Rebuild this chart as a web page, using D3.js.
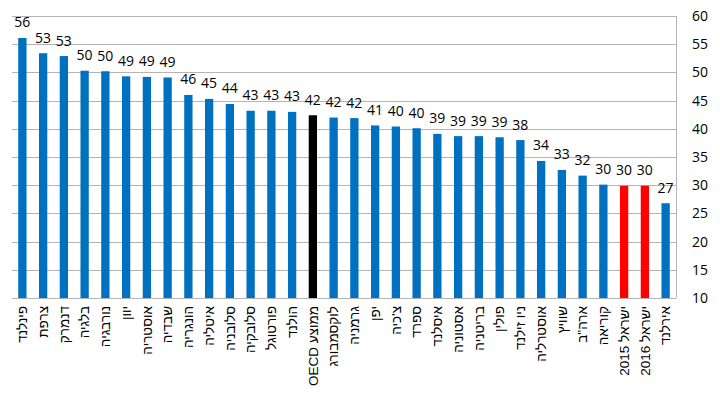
<!DOCTYPE html>
<html>
<head>
    <meta charset="utf-8">
    <title>Bar chart</title>
    <script src="https://d3js.org/d3.v7.min.js"></script>
    <style>
        body {
            margin: 0;
            background: #ffffff;
        }
        .val {
            font-family: "Open Sans", sans-serif;
            font-size: 14px;
            fill: #000;
        }
        .cat {
            font-family: "Liberation Sans", Arial, sans-serif;
            font-size: 13.5px;
            fill: #000;
        }
    </style>
</head>
<body>
<div id="chart"></div>
<script>
    // categories (left to right)
    const countries = [
        "פינלנד", "צרפת", "דנמרק", "בלגיה", "נורבגיה", "יוון", "אוסטריה", "שבדיה",
        "הונגריה", "איטליה", "סלובניה", "סלובקיה", "פורטוגל", "הולנד", "OECD ממוצע",
        "לוקסמבורג", "גרמניה", "יפן", "צ'כיה", "ספרד", "איסלנד", "אסטוניה", "בריטניה",
        "פולין", "ניו זילנד", "אוסטרליה", "שוויץ", "ארה\"ב", "קוריאה", "ישראל 2015",
        "ישראל 2016", "אירלנד"
    ];

    // values
    const values = [
        56.1, 53.4, 52.9, 50.3, 50.2, 49.3, 49.2, 49.1,
        46.0, 45.3, 44.4, 43.2, 43.2, 43.0, 42.4,
        42.0, 41.9, 40.6, 40.4, 40.1, 39.1, 38.7, 38.7,
        38.5, 38.0, 34.3, 32.7, 31.7, 30.1, 29.9,
        29.9, 26.8
    ];

    // which bars are highlighted
    const highlightBlack = ["OECD ממוצע"];
    const highlightRed = ["ישראל 2015", "ישראל 2016"];

    const yTicks = [10, 15, 20, 25, 30, 35, 40, 45, 50, 55, 60];

    const data = countries.map(function (c, i) {
        return {name: c, value: values[i]};
    });

    const width = 720;
    const height = 403;
    const margin = {top: 16, right: 44, bottom: 105, left: 12};

    const svg = d3.select("#chart")
        .append("svg")
        .attr("width", width)
        .attr("height", height);

    const x = d3.scaleBand()
        .domain(countries)
        .range([margin.left, width - margin.right])
        .paddingInner(0.6)
        .paddingOuter(0.3);

    const y = d3.scaleLinear()
        .domain([10, 60])
        .range([height - margin.bottom, margin.top]);

    // gridlines
    svg.append("g")
        .selectAll("line")
        .data(yTicks)
        .enter()
        .append("line")
        .attr("x1", margin.left)
        .attr("x2", width - margin.right)
        .attr("y1", d => Math.round(y(d)) + 0.5)
        .attr("y2", d => Math.round(y(d)) + 0.5)
        .attr("stroke", "#b4b4b4")
        .attr("stroke-width", 1);

    // right border of the plot area
    svg.append("line")
        .attr("x1", width - margin.right + 0.5)
        .attr("x2", width - margin.right + 0.5)
        .attr("y1", y(60))
        .attr("y2", y(10))
        .attr("stroke", "#b4b4b4");

    // y axis on the right
    const yAxis = d3.axisRight(y)
        .tickValues(yTicks)
        .tickSize(0)
        .tickPadding(0);

    const axisG = svg.append("g")
        .attr("transform", "translate(" + (width - margin.right + 16) + ",0)")
        .call(yAxis);
    axisG.select(".domain").remove();
    axisG.selectAll("text")
        .attr("class", "val")
        .attr("font-family", null)
        .attr("font-size", null)
        .attr("fill", "#000");

    // bars
    svg.append("g")
        .selectAll("rect")
        .data(data)
        .enter()
        .append("rect")
        .attr("x", d => x(d.name))
        .attr("width", x.bandwidth())
        .attr("y", d => y(d.value))
        .attr("height", d => y(10) - y(d.value))
        .attr("fill", function (d) {
            if (highlightBlack.includes(d.name)) return "#000000";
            if (highlightRed.includes(d.name)) return "#ff0000";
            return "#0070c0";
        });

    // value labels
    svg.append("g")
        .selectAll("text")
        .data(data)
        .enter()
        .append("text")
        .attr("class", "val")
        .attr("text-anchor", "middle")
        .attr("x", d => x(d.name) + x.bandwidth() / 2)
        .attr("y", d => y(d.value) - 10.5)
        .text(d => d3.format(".0f")(d.value));

    // category labels, rotated
    svg.append("g")
        .selectAll("text")
        .data(data)
        .enter()
        .append("text")
        .attr("class", "cat")
        .attr("text-anchor", "end")
        .attr("dy", "0.35em")
        .attr("transform", d => "translate(" + (x(d.name) + x.bandwidth() / 2) + "," + (y(10) + 8) + ") rotate(-90)")
        .text(d => d.name);
</script>
</body>
</html>
